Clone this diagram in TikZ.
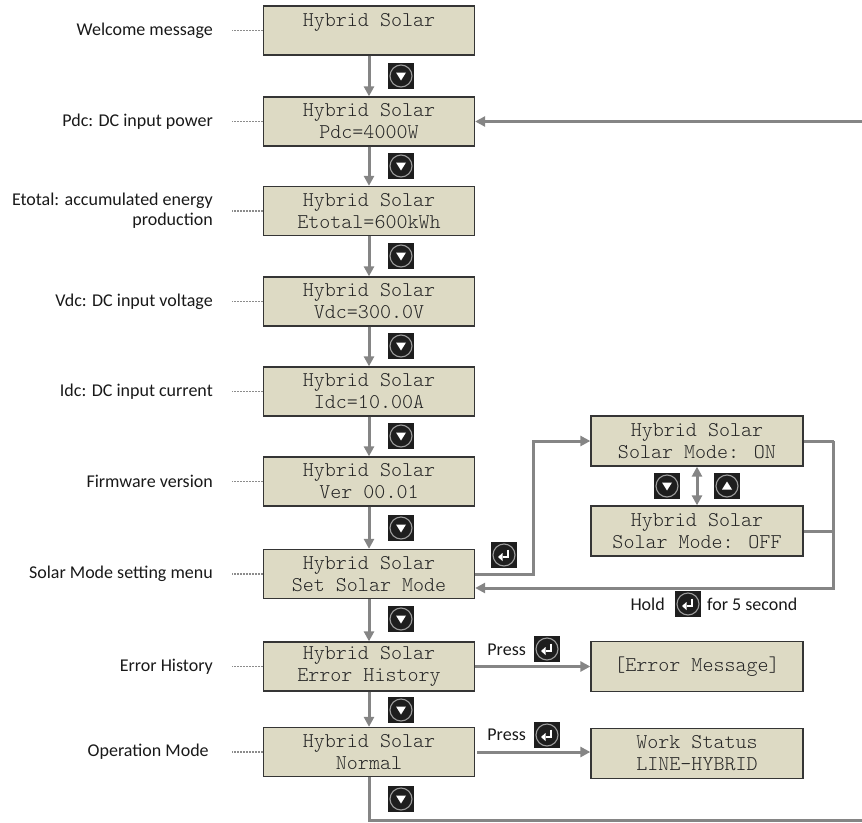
\documentclass[tikz,border=0pt]{standalone}
\usepackage{fontspec}
\setmainfont{Carlito}
\newfontfamily\lcdfont{Latin Modern Mono Light}
\usetikzlibrary{arrows.meta,positioning}
\definecolor{lcdbg}{HTML}{DDDAC4}
\definecolor{lcdline}{HTML}{353535}
\definecolor{lcdtext}{HTML}{262626}
\definecolor{flowgray}{HTML}{858585}
\definecolor{keyfill}{HTML}{1E1E1E}
\definecolor{keyring}{HTML}{9C9C9C}
\tikzset{
	lcdbox/.style={draw=lcdline,line width=1.3pt,fill=lcdbg,minimum width=211pt,minimum height=49pt,inner sep=0pt,align=center,text=lcdtext,font=\lcdfont\fontsize{21}{22}\selectfont},
	note/.style={inner sep=0pt,align=right,text=black!90,font=\fontsize{18}{20}\selectfont},
	flow/.style={draw=flowgray,line width=3pt,-{Triangle[length=10pt,width=10pt]}},
	flowline/.style={draw=flowgray,line width=3pt},
	leader/.style={draw=black!45,line width=1.6pt,dash pattern=on 1.5pt off 1.5pt},
	keypad/.pic={
		\fill[keyfill] (-13,-13) rectangle (13,13);
		\draw[keyring,line width=1.1pt] (0,0) circle (11pt);
	},
	downkey/.pic={
		\pic {keypad};
		\fill[white] (-5,-3.5) -- (5,-3.5) -- (0,4.5) -- cycle;
	},
	upkey/.pic={
		\pic {keypad};
		\fill[white] (-5,3.5) -- (5,3.5) -- (0,-4.5) -- cycle;
	},
	enterkey/.pic={
		\pic {keypad};
		\draw[white,line width=2pt] (3.5,-5.5) -- (3.5,2) -- (-1.5,2);
		\fill[white] (-1.5,-2) -- (-1.5,6) -- (-6,2) -- cycle;
	}
}
\begin{document}
\begin{tikzpicture}[x=1pt,y=-1pt]
	\useasboundingbox (0,0) rectangle (862,822);
	\foreach \y/\txt/\lab[count=\i] in {
			30.5/{Hybrid Solar\\~}/{Welcome message},
			121.5/{Hybrid Solar\\Pdc=4000W}/{Pdc: DC input power},
			211/{Hybrid Solar\\Etotal=600kWh}/{Etotal: accumulated energy\\production},
			301.5/{Hybrid Solar\\Vdc=300.0V}/{Vdc: DC input voltage},
			391.5/{Hybrid Solar\\Idc=10.00A}/{Idc: DC input current},
			481.5/{Hybrid Solar\\Ver 00.01}/{Firmware version},
			574/{Hybrid Solar\\Set Solar Mode}/{Solar Mode setting menu},
			666.5/{Hybrid Solar\\Error History}/{Error History},
			752/{Hybrid Solar\\Normal}/{Operation Mode}
		}{
		\node[lcdbox](b\i) at(369,\y){\txt};
		\node[note,anchor=east](l\i) at(213,\y){\lab};
		\draw[leader] (b\i.west) -- ++(-31,0);
	}
	\foreach \i/\j/\y in {1/2/76,2/3/166,3/4/256,4/5/346,5/6/436,6/7/528,7/8/619,8/9/710}{
		\draw[flow] (b\i) -- (b\j);
		\pic at(401,\y){downkey};
	}
	\coordinate (eR) at(862,820);
	\coordinate (eT) at(862,121.5);
	\draw[flowline] (b9.south) |- (eR);
	\pic at(401,799){downkey};
	\draw[flow] (eT) -- (b2.east);
	\node[lcdbox,minimum width=212pt,minimum height=50pt](on) at(697,441){Hybrid Solar\\Solar Mode: ON};
	\node[lcdbox,minimum width=212pt,minimum height=50pt](off) at(697,531){Hybrid Solar\\Solar Mode: OFF};
	\node[lcdbox,minimum width=212pt,minimum height=50pt](err) at(697,666.5){[Error Message]};
	\node[lcdbox,minimum width=212pt,minimum height=50pt](ws) at(697,753.5){Work Status\\LINE-HYBRID};
	\draw[flow] (b7.east) -- ++(58,0) |- (on.west);
	\pic at(504,555){enterkey};
	\draw[flow,{Triangle[length=10pt,width=10pt]}-{Triangle[length=10pt,width=10pt]}] (on) -- (off);
	\pic at(667,486){downkey};
	\pic at(727,486){upkey};
	\draw[flowline] (on.east) -- ++(30,0) coordinate (rj);
	\draw[flowline] (off.east) -- (off.east -| rj);
	\draw[flow] (rj) |- ([yshift=-14pt]b7.east);
	\node[note,anchor=east](hold) at(665,604){Hold};
	\pic at(688,604){enterkey};
	\node[note,anchor=west](dur) at(707,604){for 5 second};
	\draw[flow] (b8) -- (err);
	\node[note,anchor=east](press1) at(526,650){Press};
	\pic at(547,649){enterkey};
	\draw[flow] ([xshift=2pt]b9.east) -- (ws.west |- b9.east);
	\node[note,anchor=east](press2) at(526,735){Press};
	\pic at(547,735){enterkey};
\end{tikzpicture}
\end{document}
